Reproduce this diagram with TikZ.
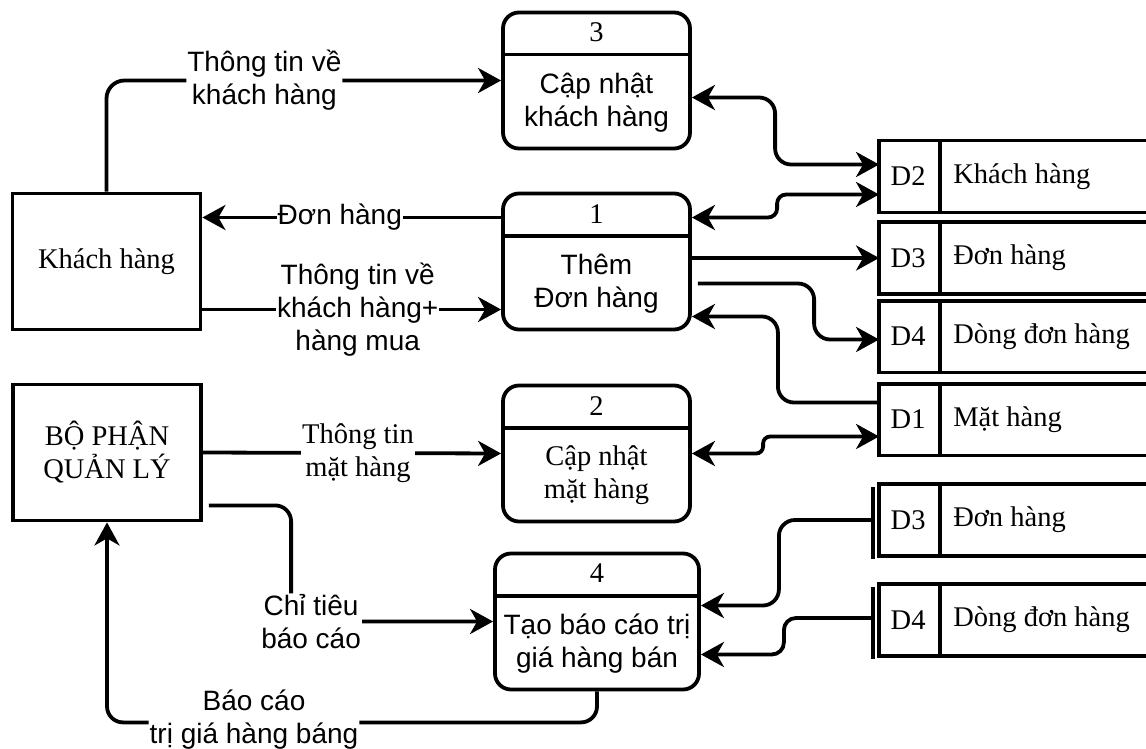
\documentclass[tikz,border=0pt]{standalone}
\usepackage{fontspec}
\setmainfont{Liberation Serif}
\setsansfont{Liberation Sans}
\usetikzlibrary{arrows.meta,positioning}

\begin{document}
\begin{tikzpicture}[x=1pt,y=-1pt,>={Stealth[length=23pt,width=25pt,inset=7pt]},
  line width=3.8pt,
  sans/.style={font=\sffamily\fontsize{28}{33}\selectfont},
  serif/.style={font=\rmfamily\fontsize{28.5}{33}\selectfont},
  proc/.style={draw,rounded corners=16pt,minimum width=187pt,minimum height=136pt,inner sep=0pt},
  ext/.style={draw,minimum width=188pt,minimum height=136pt,align=center,serif},
  store/.style={minimum width=265pt,minimum height=68pt,inner sep=0pt},
  lbl/.style={fill=white,inner sep=1pt,align=center}]
  \useasboundingbox (0,0) rectangle (1146,749);

  % external entities
  \node[ext] (kh) at (106.5,261.5) {Khách hàng};
  \node[ext] (bp) at (107,452.5) {BỘ PHẬN\\QUẢN LÝ};

  % processes
  \node[proc] (p3) at (596.5,80.5) {};
  \node[proc] (p1) at (596.5,261.5) {};
  \node[proc] (p2) at (596.5,453.5) {};
  \node[proc,minimum width=204pt] (p4) at (597,621.5) {};
  \foreach \p/\n in {p3/3,p1/1,p2/2,p4/4}{
    \draw ([yshift=-44pt]\p.north west) -- ([yshift=-44pt]\p.north east);
    \node[serif] at ([yshift=-22pt]\p.north) {\n};
  }
  \node[sans,align=center] at ([yshift=-22pt]p3.center) {Cập nhật\\khách hàng};
  \node[sans,align=center] at ([yshift=-22pt]p1.center) {Thêm\\Đơn hàng};
  \node[serif,align=center] at ([yshift=-22pt]p2.center) {Cập nhật\\mặt hàng};
  \node[sans,align=center] at ([yshift=-22pt]p4.center) {Tạo báo cáo trị\\giá hàng bán};

  % data stores, open on the right
  \foreach \s/\id/\txt/\y in {d2/D2/Khách hàng/176.5, d3/D3/Đơn hàng/258,
      d4/D4/Dòng đơn hàng/336.5, d1/D1/Mặt hàng/419.5,
      d3b/D3/Đơn hàng/520, d4b/D4/Dòng đơn hàng/620}{
    \node[store] (\s) at (1013.5,\y) {};
    \draw (\s.north east) -- (\s.north west) -- (\s.south west) -- (\s.south east);
    \draw ([xshift=61pt]\s.north west) -- ([xshift=61pt]\s.south west);
    \node[serif] at ([xshift=29pt]\s.west) {\id};
    \node[serif,anchor=west] at ([xshift=69pt]\s.west) {\txt};
  }
  \foreach \s in {d3b,d4b}
    \draw ([xshift=-6pt,yshift=-3pt]\s.north west) -- ([xshift=-6pt,yshift=-3pt]\s.south west);

  % flows of Khach hang
  \draw[->,rounded corners=18pt] (kh.north) |- (p3.west)
    node[lbl,sans,pos=0.7] {Thông tin về\\khách hàng};
  \draw[->] ([yshift=44pt]p1.west) -- ([yshift=44pt]kh.east)
    node[lbl,sans,pos=0.54] {Đơn hàng};
  \draw[->] ([yshift=-48pt]kh.east) -- ([yshift=-48pt]p1.west)
    node[lbl,sans,pos=0.52] {Thông tin về\\khách hàng+\\hàng mua};

  % processes 1 and 3 with the stores
  \draw[<->,rounded corners=16pt] ([yshift=-17pt]p3.east) -| ([xshift=-104pt,yshift=12pt]d2.west) -- ([yshift=12pt]d2.west);
  \draw[<->,rounded corners=9pt] ([yshift=44pt]p1.east) -| ([xshift=-102pt,yshift=-18pt]d2.west) -- ([yshift=-18pt]d2.west);
  \draw[->] (p1.east |- d3.west) -- (d3.west);
  \draw[->,rounded corners=16pt] ([xshift=6pt,yshift=-22pt]p1.east) -| ([xshift=-65pt,yshift=-3pt]d4.west) -- ([yshift=-3pt]d4.west);
  \draw[->,rounded corners=16pt] ([yshift=17pt]d1.west) -| ([xshift=86pt,yshift=-55pt]p1.east) -- ([yshift=-55pt]p1.east);

  % process 2
  \draw[<->,rounded corners=7pt] (p2.east) -| ([xshift=-116pt,yshift=-17pt]d1.west) -- ([yshift=-17pt]d1.west);
  \draw[->] (bp.east) -- (p2.west) node[lbl,serif,pos=0.52] {Thông tin\\mặt hàng};

  % process 4
  \draw[->,rounded corners=16pt] ([xshift=6pt,yshift=17pt]bp.south east) -| ([xshift=-202pt]p4.west)
    node[lbl,sans,xshift=20pt] {Chỉ tiêu\\báo cáo} -- (p4.west);
  \draw[->,rounded corners=16pt] (p4.south) |- ([yshift=-200pt]bp.south)
    node[lbl,sans,pos=0.85,yshift=3pt] {Báo cáo\\trị giá hàng báng} -- (bp.south);
  \draw[->,rounded corners=16pt] ([xshift=-6pt]d3b.west) -| ([xshift=78pt,yshift=16pt]p4.east) -- ([yshift=16pt]p4.east);
  \draw[->,rounded corners=12pt] ([xshift=-6pt,yshift=2pt]d4b.west) -| ([xshift=83pt,yshift=-33pt]p4.east) -- ([yshift=-33pt]p4.east);
\end{tikzpicture}
\end{document}
